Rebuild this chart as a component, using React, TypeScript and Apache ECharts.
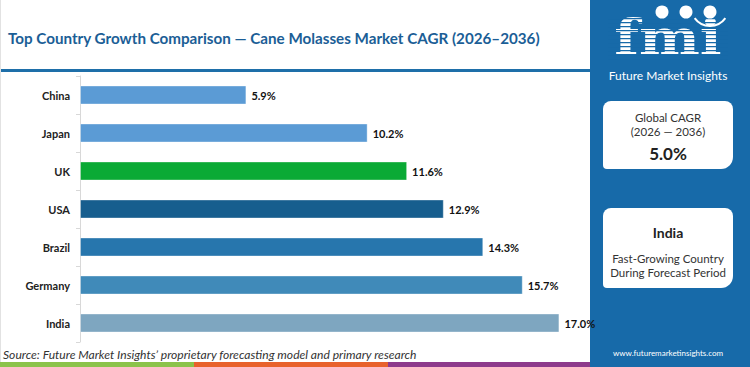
import React, { useEffect, useRef } from "react";
import * as echarts from "echarts";

const countries = ["China", "Japan", "UK", "USA", "Brazil", "Germany", "India"];
const cagrValues = [5.9, 10.2, 11.6, 12.9, 14.3, 15.7, 17.0];
const barColors = ["#5b9bd5", "#5b9bd5", "#0aaa35", "#175e8e", "#2776ad", "#408ab9", "#7ea6c0"];
const titleText = "Top Country Growth Comparison \u2014 Cane Molasses Market CAGR (2026\u20132036)";
const sourceText = "Source: Future Market Insights\u2019 proprietary forecasting model and primary research";
const globalCagr = "5.0%";
const fastestCountry = "India";

const FONT = "Lato, 'Open Sans', sans-serif";
const PANEL = "#176aa9";

export default function App() {
  const ref = useRef<HTMLDivElement>(null);
  useEffect(() => {
    document.body.style.margin = "0";
    const chart = echarts.init(ref.current!, null, { renderer: "svg" });
    const stripes: any[] = [];
    for (let y = 18; y < 62; y += 4) {
      stripes.push({
        type: "rect",
        shape: { x: 608, y, width: 120, height: 1.2 },
        style: { fill: PANEL },
        z: 20,
      });
    }
    chart.setOption({
      animation: false,
      backgroundColor: "#ffffff",
      textStyle: { fontFamily: FONT },
      grid: { left: 80, top: 76, width: 507.6, height: 266, containLabel: false },
      xAxis: {
        type: "value",
        min: 0,
        max: 18,
        show: false,
      },
      yAxis: {
        type: "category",
        data: countries,
        inverse: true,
        axisLine: { show: true, lineStyle: { color: "#d8d8d8", width: 1 } },
        axisTick: { show: true, length: 4, lineStyle: { color: "#d8d8d8" } },
        axisLabel: {
          fontFamily: FONT,
          fontWeight: "bold",
          fontSize: 11,
          color: "#222222",
          margin: 10,
        },
        splitLine: { show: false },
      },
      series: [
        {
          type: "bar",
          barWidth: 19,
          data: cagrValues.map((v, i) => ({
            value: v,
            itemStyle: { color: barColors[i], borderColor: "rgba(255,255,255,0.35)", borderWidth: 1 },
          })),
          label: {
            show: true,
            position: "right",
            distance: 5,
            fontFamily: FONT,
            fontWeight: "bold",
            fontSize: 11,
            color: "#111111",
            formatter: (p: any) => `${Number(p.value).toFixed(1)}%`,
          },
        },
      ],
      graphic: [
        // title
        {
          type: "text",
          x: 8,
          y: 38,
          style: { text: titleText, font: `bold 15.2px ${FONT}`, fill: "#1b5e96", verticalAlign: "middle" },
        },
        // header rule
        { type: "rect", shape: { x: 0, y: 69, width: 590, height: 3 }, style: { fill: "#1e6fa9" } },
        // left border
        { type: "rect", shape: { x: 0, y: 0, width: 1, height: 362 }, style: { fill: "#e2e2e2" } },
        // source
        {
          type: "text",
          x: 3,
          y: 354,
          style: { text: sourceText, font: `italic 12.1px ${FONT}`, fill: "#333333", verticalAlign: "middle" },
        },
        // bottom strip
        { type: "rect", shape: { x: 0, y: 362, width: 194, height: 5 }, style: { fill: "#8bc34a" } },
        { type: "rect", shape: { x: 194, y: 362, width: 194, height: 5 }, style: { fill: "#e8622c" } },
        { type: "rect", shape: { x: 388, y: 362, width: 202, height: 5 }, style: { fill: "#8e3a8c" } },
        // right panel
        { type: "rect", shape: { x: 590, y: 0, width: 160, height: 367 }, style: { fill: PANEL } },
        // logo
        {
          type: "text",
          x: 668,
          y: 37,
          scaleX: 1.15,
          style: {
            text: "fmi",
            font: "bold 50px 'DejaVu Serif', serif",
            fill: "#ffffff",
            align: "center",
            verticalAlign: "middle",
          },
          z: 10,
        },
        ...stripes,
        { type: "circle", shape: { cx: 662, cy: 12, r: 6.5 }, style: { fill: "#ffffff" }, z: 30 },
        { type: "circle", shape: { cx: 686, cy: 12, r: 6.5 }, style: { fill: "#ffffff" }, z: 30 },
        { type: "circle", shape: { cx: 710, cy: 12, r: 6.5 }, style: { fill: "#ffffff" }, z: 30 },
        {
          type: "arc",
          shape: { cx: 710, cy: 7, r: 19, startAngle: Math.PI * 0.2, endAngle: Math.PI * 0.8 },
          style: { stroke: "#ffffff", lineWidth: 2, fill: "none" },
          z: 30,
        },
        {
          type: "text",
          x: 668,
          y: 75,
          style: {
            text: "Future Market Insights",
            font: `12px ${FONT}`,
            fill: "#ffffff",
            align: "center",
            verticalAlign: "middle",
          },
        },
        // card 1
        {
          type: "rect",
          shape: { x: 603, y: 101, width: 130, height: 68, r: [8, 8, 12, 4] },
          style: { fill: "#ffffff" },
        },
        {
          type: "text",
          x: 668,
          y: 117,
          style: { text: "Global CAGR", font: `11.5px ${FONT}`, fill: "#333333", align: "center", verticalAlign: "middle" },
        },
        {
          type: "text",
          x: 668,
          y: 131,
          style: { text: "(2026 \u2014 2036)", font: `11.5px ${FONT}`, fill: "#333333", align: "center", verticalAlign: "middle" },
        },
        {
          type: "text",
          x: 668,
          y: 153,
          style: { text: globalCagr, font: `bold 17px ${FONT}`, fill: "#222222", align: "center", verticalAlign: "middle" },
        },
        // card 2
        {
          type: "rect",
          shape: { x: 603, y: 208, width: 130, height: 80, r: [8, 8, 12, 4] },
          style: { fill: "#ffffff" },
        },
        {
          type: "text",
          x: 668,
          y: 232,
          style: { text: fastestCountry, font: `bold 14px ${FONT}`, fill: "#222222", align: "center", verticalAlign: "middle" },
        },
        {
          type: "text",
          x: 668,
          y: 258,
          style: { text: "Fast-Growing Country", font: `11.5px ${FONT}`, fill: "#333333", align: "center", verticalAlign: "middle" },
        },
        {
          type: "text",
          x: 668,
          y: 272,
          style: { text: "During Forecast Period", font: `11.5px ${FONT}`, fill: "#333333", align: "center", verticalAlign: "middle" },
        },
        {
          type: "text",
          x: 668,
          y: 353,
          style: {
            text: "www.futuremarketinsights.com",
            font: `8px ${FONT}`,
            fill: "#ffffff",
            align: "center",
            verticalAlign: "middle",
          },
        },
      ],
    });
    return () => chart.dispose();
  }, []);
  return <div ref={ref} style={{ position: "absolute", left: 0, top: 0, width: 750, height: 367 }} />;
}
